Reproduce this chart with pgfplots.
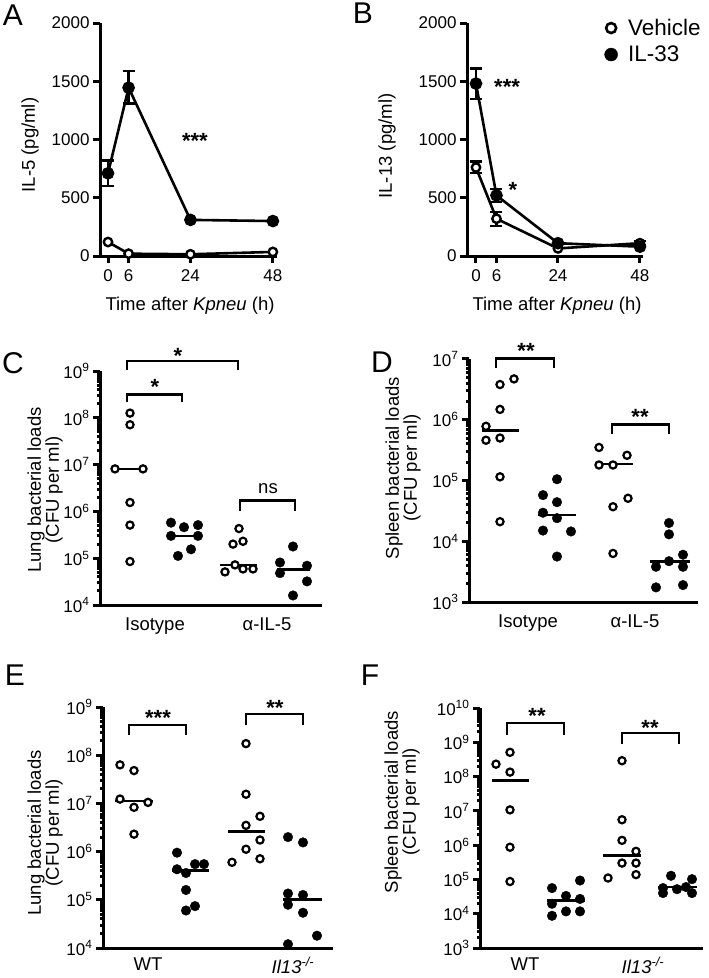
\documentclass[border=0pt]{standalone}
\usepackage{pgfplots}
\pgfplotsset{compat=1.18}
\usepackage{fontspec}
\setmainfont{Liberation Sans}
\newcommand\tickfont{\fontsize{17}{19}\selectfont}
\newcommand\labfont{\fontsize{18.5}{18}\selectfont}
\newcommand\letfont{\fontsize{30}{32}\selectfont}
\newcommand\legfont{\fontsize{22.5}{24}\selectfont}
\tikzset{
  brk/.style={black, line width=2.4pt},
  star/.style={font=\fontsize{22}{24}\selectfont\bfseries, yshift=-4.5pt},
}
\pgfplotsset{
  panel/.style={scale only axis, axis x line*=bottom, axis y line*=left,
    axis line style={line width=3pt,-}, every tick/.style={black,line width=3pt},
    major tick length=7pt, tick align=outside, clip=false,
    tick label style={font=\tickfont}, /pgf/number format/assume math mode=true,
    /pgf/number format/1000 sep={}, anchor=south west},
  catax/.style={xtick style={draw=none}, xticklabel style={font=\labfont, yshift=-2pt}},
  openm/.style={only marks, mark=*, mark options={fill=white, draw=black, line width=2.2pt}, mark size=3.6pt},
  fillm/.style={only marks, mark=*, mark options={fill=black, draw=black}, mark size=4.8pt},
  med/.style={black, line width=2.6pt, mark=none},
  ebar/.style={draw=none, forget plot, error bars/.cd, y dir=both, y explicit,
    error bar style={draw=black, line width=2.4pt, solid},
    error mark options={draw=black, rotate=90, mark size=6pt, line width=2.4pt}},
}
\begin{document}
\begin{tikzpicture}
\useasboundingbox (0,0) rectangle (709pt,-978pt);

% ---------------- A ----------------
\begin{axis}[panel, at={(100pt,-256pt)}, width=177pt, height=233pt,
  xmin=-2.33, xmax=49.2, ymin=0, ymax=2000,
  xtick={0,6,24,48}, ytick={0,500,1000,1500,2000}, xticklabel style={yshift=-3pt}]
\addplot[ebar] coordinates {(0,710) += (0,110) -= (0,110) (6,1445) += (0,145) -= (0,135)};
\addplot[black, line width=2.6pt, mark=*, mark size=4.2pt, mark options={fill=white, line width=2.4pt}]
  coordinates {(0,120) (6,20) (24,15) (48,35)};
\addplot[black, line width=2.6pt, mark=*, mark size=5pt, mark options={fill=black}]
  coordinates {(0,710) (6,1445) (24,310) (48,300)};
\node[star] at (axis cs:25.3,1023) {***};
\end{axis}

% ---------------- B ----------------
\begin{axis}[panel, at={(467pt,-256pt)}, width=176pt, height=233pt,
  xmin=-2.63, xmax=48.9, ymin=0, ymax=2000,
  xtick={0,6,24,48}, ytick={0,500,1000,1500,2000}, xticklabel style={yshift=-3pt},
  legend style={at={(axis description cs:0.778,1.026)}, anchor=north west, draw=none, fill=none,
    font=\legfont, row sep=5pt, inner sep=0pt, cells={anchor=west}},
  legend image code/.code={\path (-7pt,0pt) (15pt,0pt); \draw[#1] plot coordinates {(0pt,0pt)};}]
\addplot[ebar] coordinates {(0,760) +- (0,50) (6,320) +- (0,60) (48,110) +- (0,20)};
\addplot[ebar] coordinates {(0,1480) +- (0,130) (6,520) +- (0,55)};
\addplot[black, line width=2.6pt, mark=*, mark size=4.2pt, mark options={fill=white, line width=2.4pt}, forget plot]
  coordinates {(0,760) (6,320) (24,65) (48,110)};
\addplot[black, line width=2.6pt, mark=*, mark size=5pt, mark options={fill=black}, forget plot]
  coordinates {(0,1480) (6,520) (24,110) (48,80)};
\addlegendimage{draw=none, mark=*, mark size=5pt, mark options={fill=white, draw=black, line width=2.6pt}}
\addlegendentry{Vehicle}
\addlegendimage{draw=none, mark=*, mark size=6.5pt, mark options={fill=black, draw=black}}
\addlegendentry{IL-33}
\node[star] at (axis cs:9.1,1486) {***};
\node[star] at (axis cs:10.8,610) {*};
\end{axis}

% ---------------- C ----------------
\begin{axis}[panel, catax, at={(100pt,-605pt)}, width=222pt, height=234pt,
  xmin=100, xmax=322, ymode=log, ymin=1e4, ymax=1e9,
  ytick={1e4,1e5,1e6,1e7,1e8,1e9}, minor ytick={},
  yticklabels={10\textsuperscript{4},10\textsuperscript{5},10\textsuperscript{6},10\textsuperscript{7},10\textsuperscript{8},10\textsuperscript{9}},
  xtick={155,267}, xticklabels={Isotype,α-IL-5}]
\addplot[openm] coordinates {(130,1.26e8) (130,7.1e7) (115,8.1e6) (143,8.1e6) (130,1.55e6) (130,5.1e5) (130,8.5e4)};
\addplot[med] coordinates {(112,8.1e6) (145,8.1e6)};
\addplot[fillm] coordinates {(171,5.75e5) (184,4.6e5) (198,5.1e5) (171,3.0e5) (198,3.0e5) (191,1.55e5) (178,1.12e5)};
\addplot[med] coordinates {(167,3.0e5) (202,3.0e5)};
\addplot[openm] coordinates {(239,4.3e5) (243,2.3e5) (233,2.0e5) (235,7.2e4) (225,5.1e4) (243,5.9e4) (253,5.9e4)};
\addplot[med] coordinates {(220,7.2e4) (257,7.2e4)};
\addplot[fillm] coordinates {(293,1.78e5) (280,8.1e4) (307,6.9e4) (280,4.8e4) (307,3.2e4) (293,1.6e4)};
\addplot[med] coordinates {(277,5.75e4) (310,5.75e4)};
\draw[brk] (axis cs:127,2.14e8) -- (axis cs:127,3.16e8) -- (axis cs:182,3.16e8) -- (axis cs:182,2.14e8);
\node[star] at (axis cs:155,5.6e8) {*};
\draw[brk] (axis cs:127,1.07e9) -- (axis cs:127,1.66e9) -- (axis cs:238,1.66e9) -- (axis cs:238,1.07e9);
\node[star] at (axis cs:178,2.6e9) {*};
\draw[brk] (axis cs:240,1.02e6) -- (axis cs:240,1.7e6) -- (axis cs:295,1.7e6) -- (axis cs:295,1.02e6);
\node[font=\labfont] at (axis cs:268,3.0e6) {ns};
\end{axis}

% ---------------- D ----------------
\begin{axis}[panel, catax, at={(469pt,-602pt)}, width=229pt, height=243pt,
  xmin=469, xmax=698, ymode=log, ymin=1e3, ymax=1e7,
  ytick={1e3,1e4,1e5,1e6,1e7}, minor ytick={},
  yticklabels={10\textsuperscript{3},10\textsuperscript{4},10\textsuperscript{5},10\textsuperscript{6},10\textsuperscript{7}},
  xtick={528,635}, xticklabels={Isotype,α-IL-5}]
\addplot[openm] coordinates {(514,4.7e6) (500,3.8e6) (500,1.48e6) (486,7.8e5) (486,4.6e5) (500,5.0e5) (500,1.15e5) (500,2.1e4)};
\addplot[med] coordinates {(482,6.6e5) (519,6.6e5)};
\addplot[fillm] coordinates {(557,1.05e5) (543,5.75e4) (557,4.4e4) (543,2.95e4) (557,2.4e4) (543,1.5e4) (571,1.45e4) (557,5.6e3)};
\addplot[med] coordinates {(538,2.7e4) (576,2.7e4)};
\addplot[openm] coordinates {(599,3.5e5) (627,2.6e5) (599,1.8e5) (613,1.8e5) (628,5.1e4) (613,3.7e4) (613,6.3e3)};
\addplot[med] coordinates {(595,1.86e5) (633,1.86e5)};
\addplot[fillm] coordinates {(669,2.0e4) (669,1.3e4) (683,6.0e3) (656,3.8e3) (669,4.7e3) (683,3.8e3) (656,1.74e3) (683,1.9e3)};
\addplot[med] coordinates {(650,4.6e3) (690,4.6e3)};
\draw[brk] (axis cs:496,7.2e6) -- (axis cs:496,1.02e7) -- (axis cs:554,1.02e7) -- (axis cs:554,7.2e6);
\node[star] at (axis cs:526,1.62e7) {**};
\draw[brk] (axis cs:612,5.9e5) -- (axis cs:612,8.3e5) -- (axis cs:669,8.3e5) -- (axis cs:669,5.9e5);
\node[star] at (axis cs:640,1.32e6) {**};
\end{axis}

% ---------------- E ----------------
\begin{axis}[panel, catax, at={(103pt,-948pt)}, width=230pt, height=241pt,
  xmin=103, xmax=333, ymode=log, ymin=1e4, ymax=1e9,
  ytick={1e4,1e5,1e6,1e7,1e8,1e9}, minor ytick={},
  yticklabels={10\textsuperscript{4},10\textsuperscript{5},10\textsuperscript{6},10\textsuperscript{7},10\textsuperscript{8},10\textsuperscript{9}},
  xtick={148,293}, xticklabels={WT,\textit{Il13}\textsuperscript{\textit{-/-}}},
  xticklabel style={yshift=3pt}]
\addplot[openm] coordinates {(120,6.3e7) (134,4.8e7) (120,1.23e7) (148,1.05e7) (134,8.3e6) (134,2.3e6)};
\addplot[med] coordinates {(115,1.12e7) (153,1.12e7)};
\addplot[fillm] coordinates {(177,9.5e5) (177,4.3e5) (186,3.6e5) (195,5.5e5) (204,5.5e5) (186,1.6e5) (195,7.4e4) (186,6.0e4)};
\addplot[med] coordinates {(172,4.0e5) (209,4.0e5)};
\addplot[openm] coordinates {(246,1.74e8) (246,1.55e7) (260,5.4e6) (246,3.5e6) (260,1.74e6) (246,1.12e6) (260,7.1e5) (232,6.0e5)};
\addplot[med] coordinates {(228,2.6e6) (265,2.6e6)};
\addplot[fillm] coordinates {(288,2.0e6) (303,1.55e6) (288,1.35e5) (303,1.26e5) (288,7.9e4) (303,5.4e4) (317,1.8e4) (288,1.2e4)};
\addplot[med] coordinates {(283,1.02e5) (322,1.02e5)};
\draw[brk] (axis cs:129,2.6e8) -- (axis cs:129,4.2e8) -- (axis cs:186,4.2e8) -- (axis cs:186,2.6e8);
\node[star] at (axis cs:158,7.2e8) {***};
\draw[brk] (axis cs:246,4.3e8) -- (axis cs:246,7.2e8) -- (axis cs:303,7.2e8) -- (axis cs:303,4.3e8);
\node[star] at (axis cs:275,1.17e9) {**};
\end{axis}

% ---------------- F ----------------
\begin{axis}[panel, catax, at={(480pt,-948pt)}, width=223pt, height=240pt,
  xmin=480, xmax=703, ymode=log, ymin=1e3, ymax=1e10,
  ytick={1e3,1e4,1e5,1e6,1e7,1e8,1e9,1e10}, minor ytick={},
  yticklabels={10\textsuperscript{3},10\textsuperscript{4},10\textsuperscript{5},10\textsuperscript{6},10\textsuperscript{7},10\textsuperscript{8},10\textsuperscript{9},10\textsuperscript{10}},
  xtick={525,643}, xticklabels={WT,\textit{Il13}\textsuperscript{\textit{-/-}}},
  xticklabel style={yshift=3pt}]
\addplot[openm] coordinates {(510,5.1e8) (496,2.3e8) (510,1.35e8) (510,1.07e7) (510,8.7e5) (510,8.7e4)};
\addplot[med] coordinates {(492,7.6e7) (529,7.6e7)};
\addplot[fillm] coordinates {(552,5.6e4) (580,9.3e4) (566,3.3e4) (552,1.95e4) (580,2.7e4) (566,1.17e4) (552,8.7e3) (580,1.17e4)};
\addplot[med] coordinates {(547,2.4e4) (585,2.4e4)};
\addplot[openm] coordinates {(622,2.9e8) (622,5.5e6) (622,1.38e6) (636,6.6e5) (622,3.0e5) (636,3.0e5) (608,1.1e5) (636,1.38e5)};
\addplot[med] coordinates {(603,5.0e5) (641,5.0e5)};
\addplot[fillm] coordinates {(671,1.28e5) (692,1.02e5) (663,5.6e4) (677,5.2e4) (686,6.0e4) (663,4.0e4) (692,4.0e4)};
\addplot[med] coordinates {(658,6.0e4) (697,6.0e4)};
\draw[brk] (axis cs:507,1.66e9) -- (axis cs:507,3.6e9) -- (axis cs:564,3.6e9) -- (axis cs:564,1.66e9);
\node[star] at (axis cs:537,7.9e9) {**};
\draw[brk] (axis cs:622,9.1e8) -- (axis cs:622,1.86e9) -- (axis cs:679,1.86e9) -- (axis cs:679,9.1e8);
\node[star] at (axis cs:650,3.6e9) {**};
\end{axis}

% ---------------- labels ----------------
\node[font=\letfont] at (13pt,-15pt) {A};
\node[font=\letfont] at (363pt,-13pt) {B};
\node[font=\letfont] at (13pt,-363pt) {C};
\node[font=\letfont] at (382pt,-362pt) {D};
\node[font=\letfont] at (15pt,-675pt) {E};
\node[font=\letfont] at (370pt,-675pt) {F};
\node[font=\labfont, rotate=90] at (30pt,-145pt) {IL-5 (pg/ml)};
\node[font=\labfont, rotate=90] at (387pt,-146pt) {IL-13 (pg/ml)};
\node[font=\labfont] at (190pt,-306pt) {Time after \textit{Kpneu} (h)};
\node[font=\labfont] at (557pt,-306pt) {Time after \textit{Kpneu} (h)};
\node[font=\labfont, rotate=90, align=center] at (45pt,-490pt) {Lung bacterial loads\\(CFU per ml)};
\node[font=\labfont, rotate=90, align=center] at (403pt,-468pt) {Spleen bacterial loads\\(CFU per ml)};
\node[font=\labfont, rotate=90, align=center] at (45pt,-833pt) {Lung bacterial loads\\(CFU per ml)};
\node[font=\labfont, rotate=90, align=center] at (402pt,-802pt) {Spleen bacterial loads\\(CFU per ml)};
\end{tikzpicture}
\end{document}
